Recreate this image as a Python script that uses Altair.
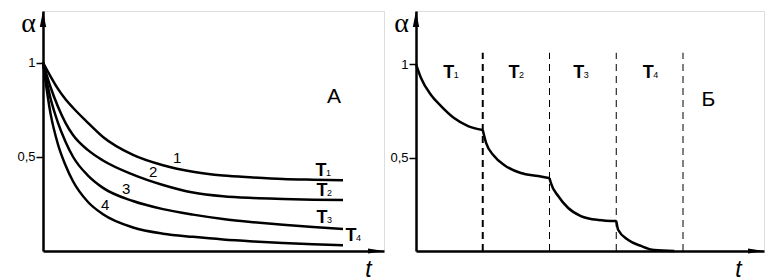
import altair as alt
import pandas as pd

# ---------------- Panel A: isothermal decay curves ----------------
t_A = [0, 0.25, 0.5, 0.75, 1, 1.5, 2, 3, 4, 5, 6, 7, 8, 9, 10]
alpha_T1 = [1, 0.927, 0.86, 0.805, 0.76, 0.68, 0.605, 0.51, 0.455, 0.42, 0.40, 0.39, 0.382, 0.378, 0.375]
alpha_T2 = [1, 0.87, 0.765, 0.68, 0.615, 0.535, 0.48, 0.405, 0.35, 0.31, 0.29, 0.281, 0.276, 0.272, 0.27]
alpha_T3 = [1, 0.81, 0.68, 0.58, 0.50, 0.40, 0.335, 0.265, 0.222, 0.193, 0.17, 0.153, 0.139, 0.127, 0.117]
alpha_T4 = [1, 0.73, 0.565, 0.455, 0.37, 0.26, 0.195, 0.125, 0.092, 0.075, 0.061, 0.051, 0.043, 0.036, 0.03]
curves_A = ["1", "2", "3", "4"]

num_label_t = [4.47, 3.67, 2.77, 2.07]
num_label_alpha = [0.467, 0.39, 0.30, 0.22]

T_main = ["T", "T", "T", "T"]
T_sub = ["1", "2", "3", "4"]
T_A_t = [9.27, 9.3, 9.3, 10.27]
T_A_alpha = [0.398, 0.292, 0.149, 0.053]

# ---------------- Panel B: stepwise heating ----------------
seg_t = [
    [0, 0.075, 0.225, 0.375, 0.57, 0.78, 1.0],
    [1.0, 1.05, 1.17, 1.32, 1.57, 1.83, 2.0],
    [2.0, 2.02, 2.13, 2.28, 2.47, 2.73, 3.0],
    [3.0, 3.03, 3.18, 3.37, 3.57, 3.87],
]
seg_alpha = [
    [1.0, 0.925, 0.834, 0.775, 0.711, 0.668, 0.647],
    [0.647, 0.578, 0.508, 0.46, 0.417, 0.401, 0.39],
    [0.39, 0.364, 0.294, 0.23, 0.187, 0.166, 0.16],
    [0.16, 0.112, 0.059, 0.027, 0.005, 0.0],
]
bounds_t = [1, 2, 3, 4]
bounds_w = [2, 1, 1, 1]
bound_top = 1.06
T_B_t = [0.49, 1.47, 2.44, 3.48]
T_B_alpha = [0.925, 0.925, 0.925, 0.925]

# axis extents
W_A, W_B, H = 341, 348, 240
XMAX_A, YMAX_A = W_A / 30, H / 188.5
XMAX_B, YMAX_B = W_B / 66.75, H / 187

SANS = "Liberation Sans"
NARROW = "Liberation Sans Narrow, Liberation Sans"

rows = []
for name, vals in zip(curves_A, [alpha_T1, alpha_T2, alpha_T3, alpha_T4]):
    for t, a in zip(t_A, vals):
        rows.append({"curve": name, "t": t, "alpha": a})
df_A = pd.DataFrame(rows)
df_num = pd.DataFrame({"t": num_label_t, "alpha": num_label_alpha, "label": curves_A})
df_TA = pd.DataFrame({"t": T_A_t, "alpha": T_A_alpha, "main": T_main, "sub": T_sub})

rows = []
for i, (ts, als) in enumerate(zip(seg_t, seg_alpha)):
    for t, a in zip(ts, als):
        rows.append({"seg": i, "t": t, "alpha": a})
df_B = pd.DataFrame(rows)
rows = []
for t, w in zip(bounds_t, bounds_w):
    rows.append({"t": t, "a0": 0, "a1": bound_top, "w": w})
df_bounds = pd.DataFrame(rows)
df_TB = pd.DataFrame({"t": T_B_t, "alpha": T_B_alpha, "main": T_main, "sub": T_sub})


def y_axis():
    return alt.Axis(values=[0.5, 1], labelExpr="datum.value == 1 ? '1' : '0,5'",
                    title="α", titleAngle=0, titleX=-15, titleY=20, titleAlign="center",
                    titleBaseline="alphabetic", titleFont="Liberation Serif", titleFontSize=28,
                    titleFontWeight="normal", titleColor="black",
                    domainColor="black", domainWidth=2.5, tickColor="black", tickSize=7,
                    tickWidth=1.5, labelFont=SANS, labelFontSize=13, labelPadding=1,
                    labelColor="black", grid=False)


def x_axis(tx):
    return alt.Axis(values=[], ticks=False, labels=False, title="t", titleX=tx, titleY=25,
                    titleAlign="center", titleBaseline="alphabetic", titleFont=SANS,
                    titleFontSize=23, titleFontStyle="italic", titleFontWeight="normal",
                    titleColor="black", domainColor="black", domainWidth=2.5, grid=False)


def arrows(xmax, ymax):
    up = alt.Chart(pd.DataFrame({"t": [0], "alpha": [ymax]})).mark_point(
        shape="M0,-1L0.4,1L-0.4,1Z", size=256, filled=True, color="black", opacity=1,
        yOffset=8).encode(x=alt.X("t:Q"), y=alt.Y("alpha:Q"))
    right = alt.Chart(pd.DataFrame({"t": [xmax], "alpha": [0]})).mark_point(
        shape="M1,0L-1,-0.3L-1,0.3Z", size=256, filled=True, color="black", opacity=1,
        xOffset=-8).encode(x=alt.X("t:Q"), y=alt.Y("alpha:Q"))
    return up + right


def t_labels(df):
    main = alt.Chart(df).mark_text(font=NARROW, fontSize=18, fontWeight="bold", color="black",
                                   baseline="alphabetic").encode(x="t:Q", y="alpha:Q", text="main:N")
    sub = alt.Chart(df).mark_text(font=SANS, fontSize=9, color="black", baseline="alphabetic",
                                  align="left", dx=5).encode(x="t:Q", y="alpha:Q", text="sub:N")
    return main + sub


xs_A = alt.Scale(domain=[0, XMAX_A], nice=False, zero=False)
ys_A = alt.Scale(domain=[0, YMAX_A], nice=False, zero=False)

lines_A = alt.Chart(df_A).mark_line(color="black", strokeWidth=2.5, interpolate="monotone").encode(
    x=alt.X("t:Q", scale=xs_A, axis=x_axis(325)),
    y=alt.Y("alpha:Q", scale=ys_A, axis=y_axis()),
    detail="curve:N",
)
nums_A = alt.Chart(df_num).mark_text(font=SANS, fontSize=15, color="black", baseline="alphabetic").encode(
    x="t:Q", y="alpha:Q", text="label:N")
letter_A = alt.Chart(pd.DataFrame({"t": [9.7], "alpha": [0.785], "s": ["А"]})).mark_text(
    font=SANS, fontSize=21, color="black", baseline="alphabetic").encode(x="t:Q", y="alpha:Q", text="s:N")

panel_A = alt.layer(lines_A, nums_A, t_labels(df_TA), letter_A, arrows(XMAX_A, YMAX_A)).properties(
    width=W_A, height=H)

xs_B = alt.Scale(domain=[0, XMAX_B], nice=False, zero=False)
ys_B = alt.Scale(domain=[0, YMAX_B], nice=False, zero=False)

lines_B = alt.Chart(df_B).mark_line(color="black", strokeWidth=2.5, interpolate="monotone").encode(
    x=alt.X("t:Q", scale=xs_B, axis=x_axis(322)),
    y=alt.Y("alpha:Q", scale=ys_B, axis=y_axis()),
    detail="seg:N",
)
dash_B = alt.Chart(df_bounds).mark_rule(color="black", strokeDash=[7, 5]).encode(
    x="t:Q", y="a0:Q", y2="a1:Q", strokeWidth=alt.StrokeWidth("w:Q", scale=None, legend=None))
letter_B = alt.Chart(pd.DataFrame({"t": [4.38], "alpha": [0.775], "s": ["Б"]})).mark_text(
    font=SANS, fontSize=21, color="black", baseline="alphabetic").encode(x="t:Q", y="alpha:Q", text="s:N")

panel_B = alt.layer(dash_B, lines_B, t_labels(df_TB), letter_B, arrows(XMAX_B, YMAX_B)).properties(
    width=W_B, height=H)

chart = alt.hconcat(panel_A, panel_B, spacing=32, bounds="flush").properties(
    padding={"left": 8, "top": 0, "right": 0, "bottom": 0}
).configure_view(stroke=None).configure(background="white")

chart.save("out.html", embed_options={"renderer": "svg", "actions": False})
